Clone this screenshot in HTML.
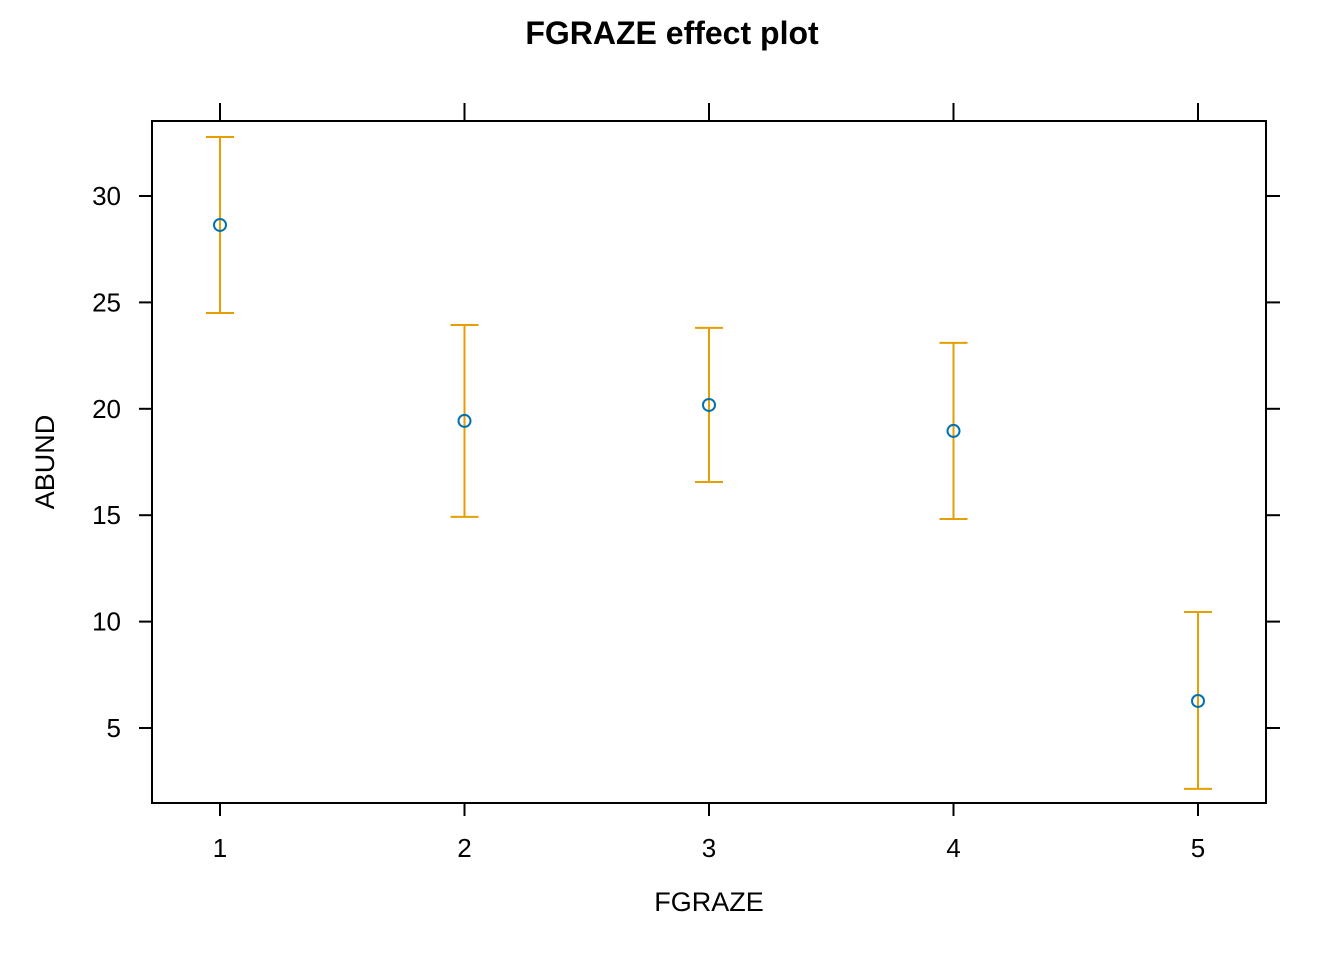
<!DOCTYPE html>
<html><head><meta charset="utf-8"><style>
body{margin:0;background:#fff;}
svg text{font-family:"Liberation Sans",Arial,sans-serif;}
</style></head><body>
<svg width="1344" height="960" xmlns="http://www.w3.org/2000/svg">
<text x="672" y="44" text-anchor="middle" font-size="32" font-weight="bold">FGRAZE effect plot</text>
<rect x="152" y="121" width="1114" height="682" fill="none" stroke="#000" stroke-width="2"/>
<g id="axes"></g>
<g id="marks"></g>
<text x="709" y="911" text-anchor="middle" font-size="27">FGRAZE</text>
<text transform="translate(54,462) rotate(-90)" text-anchor="middle" font-size="27">ABUND</text>
<script>
const categories=["1","2","3","4","5"];
const fitValues=[28.64,19.43,20.18,18.96,6.27];
const upperValues=[32.77,23.94,23.8,23.1,10.45];
const lowerValues=[24.5,14.92,16.56,14.82,2.14];
const yTicks=[5,10,15,20,25,30];
const NS="http://www.w3.org/2000/svg";
function xs(i){return 220+i*244.5;}
function ys(v){return 834.4-v*21.28;}
function mk(tag,attrs,parent){const e=document.createElementNS(NS,tag);for(const k in attrs)e.setAttribute(k,attrs[k]);parent.appendChild(e);return e;}
const ax=document.getElementById('axes'),mg=document.getElementById('marks');
categories.forEach((c,i)=>{
 const x=xs(i);
 const t1=mk('line',{x1:x,x2:x,y1:803,y2:816,stroke:'#000','stroke-width':2},ax);
 
 
 const t2=mk('line',{x1:x,x2:x,y1:121,y2:103,stroke:'#000','stroke-width':2},ax);
 
 
 const l=mk('text',{x:x,y:857,'text-anchor':'middle','font-size':26},ax);l.textContent=c;
 
 
});
yTicks.forEach(v=>{
 const y=ys(v);
 const t1=mk('line',{x1:139,x2:152,y1:y,y2:y,stroke:'#000','stroke-width':2},ax);
 
 
 const t2=mk('line',{x1:1266,x2:1280,y1:y,y2:y,stroke:'#000','stroke-width':2},ax);
 
 
 const l=mk('text',{x:121,y:y+9,'text-anchor':'end','font-size':26},ax);l.textContent=v;
 
 
});
categories.forEach((c,i)=>{
 const x=xs(i),yu=ys(upperValues[i]),yl=ys(lowerValues[i]);
 const g=mk('g',{stroke:'#E69F00','stroke-width':2},mg);
 
 
 mk('line',{x1:x,x2:x,y1:yu,y2:yl},g);
 mk('line',{x1:x-14,x2:x+14,y1:yu,y2:yu},g);
 mk('line',{x1:x-14,x2:x+14,y1:yl,y2:yl},g);
 const p=mk('circle',{cx:x,cy:ys(fitValues[i]),r:6,fill:'none',stroke:'#0072B2','stroke-width':2},mg);
 
 
});
</script>
</svg>
</body></html>
